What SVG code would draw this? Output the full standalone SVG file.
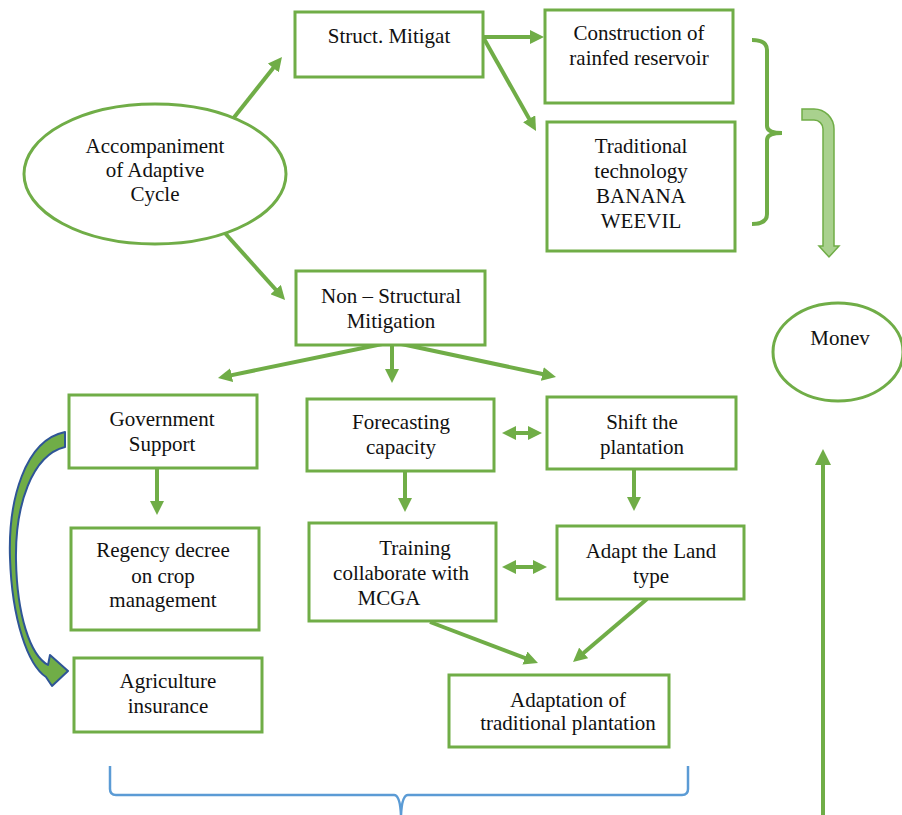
<svg xmlns="http://www.w3.org/2000/svg" width="902" height="815" viewBox="0 0 902 815">
<style>
.box{fill:#fff;stroke:#70ad47;stroke-width:3}
.ell{fill:#fff;stroke:#70ad47;stroke-width:3}
.ln{fill:none;stroke:#70ad47;stroke-width:4}
text{font-family:"Liberation Serif","DejaVu Serif","Times New Roman",serif;font-size:21px;fill:#111;text-anchor:middle}
</style>
<defs>
<marker id="ah" viewBox="0 0 14 14" refX="6" refY="7" markerWidth="14" markerHeight="14" markerUnits="userSpaceOnUse" orient="auto-start-reverse">
<path d="M0,0 L14,7 L0,14 Z" fill="#70ad47"/>
</marker>
<marker id="ah2" viewBox="0 0 16 16" refX="6" refY="8" markerWidth="16" markerHeight="16" markerUnits="userSpaceOnUse" orient="auto">
<path d="M0,0 L16,8 L0,16 Z" fill="#70ad47"/>
</marker>
</defs>
<rect width="902" height="815" fill="#fff"/>

<g id="connectors">
<line class="ln" x1="232" y1="120" x2="277" y2="63.3" marker-end="url(#ah)"/>
<line class="ln" x1="224" y1="232" x2="279.7" y2="294" marker-end="url(#ah)"/>
<line class="ln" x1="483" y1="37" x2="536" y2="37" marker-end="url(#ah)"/>
<line class="ln" x1="483" y1="37" x2="532.1" y2="124" marker-end="url(#ah)"/>
<line class="ln" x1="392" y1="342" x2="225.8" y2="376.4" marker-end="url(#ah)"/>
<line class="ln" x1="392" y1="342" x2="392" y2="375" marker-end="url(#ah)"/>
<line class="ln" x1="392" y1="342" x2="548.2" y2="375.3" marker-end="url(#ah)"/>
<line class="ln" x1="157" y1="468" x2="157" y2="507" marker-end="url(#ah)"/>
<line class="ln" x1="405" y1="471" x2="405" y2="504" marker-end="url(#ah)"/>
<line class="ln" x1="634" y1="469" x2="634" y2="503" marker-end="url(#ah)"/>
<line class="ln" x1="510" y1="433" x2="534" y2="433" marker-start="url(#ah)" marker-end="url(#ah)"/>
<line class="ln" x1="510" y1="567" x2="539" y2="567" marker-start="url(#ah)" marker-end="url(#ah)"/>
<line class="ln" x1="430" y1="622" x2="530.5" y2="660.2" marker-end="url(#ah)"/>
<line class="ln" x1="647" y1="599" x2="579.1" y2="656.8" marker-end="url(#ah)"/>
<line class="ln" x1="823" y1="815" x2="823" y2="459" marker-end="url(#ah2)"/>
<path d="M65,432 C25,440 8,500 10,558 C12,620 28,665 46,677 L52,686 L68,671 L50,655 L48,665 C30,655 17,615 16,560 C15,505 32,455 65,447 Z" fill="#70ad47" stroke="#2f5597" stroke-width="2" stroke-linejoin="round"/>
<path d="M802,109 L814,109 A20,20 0 0 1 834,129 L834,246 L839,246 L829,257 L819,246 L823,246 L823,129 A9,9 0 0 0 814,120 L802,120 Z" fill="#a9d18e" stroke="#70ad47" stroke-width="1.5"/>
<path d="M752,40 Q767,40 767,50 L767,126 Q767,133 782,133 Q767,133 767,140 L767,214 Q767,224 752,224" fill="none" stroke="#70ad47" stroke-width="4"/>
<path d="M110,766 L110,789 Q110,795 116,795 L394,795 Q400,795 401,815 Q402,795 408,795 L682,795 Q688,795 688,789 L688,766" fill="none" stroke="#5b9bd5" stroke-width="2.5"/>
</g>

<g id="accompaniment">
<ellipse class="ell" cx="155" cy="174" rx="131" ry="70"/>
<text x="155" y="153">Accompaniment</text>
<text x="155" y="177">of Adaptive</text>
<text x="155" y="201">Cycle</text>
</g>
<g id="struct">
<rect class="box" x="295" y="12" width="188" height="65"/>
<text x="389" y="43">Struct. Mitigat</text>
</g>
<g id="construction">
<rect class="box" x="545" y="10" width="188" height="93"/>
<text x="639" y="40">Construction of</text>
<text x="639" y="65">rainfed reservoir</text>
</g>
<g id="traditional">
<rect class="box" x="547" y="122" width="188" height="129"/>
<text x="641" y="153">Traditional</text>
<text x="641" y="178">technology</text>
<text x="641" y="203">BANANA</text>
<text x="641" y="228">WEEVIL</text>
</g>
<g id="nonstruct">
<rect class="box" x="296" y="271" width="189" height="74"/>
<text x="391" y="303">Non – Structural</text>
<text x="391" y="328">Mitigation</text>
</g>
<g id="monev">
<ellipse class="ell" cx="838" cy="352" rx="65" ry="49"/>
<text x="840" y="345">Monev</text>
</g>
<g id="government">
<rect class="box" x="69" y="395" width="188" height="73"/>
<text x="162" y="426">Government</text>
<text x="162" y="451">Support</text>
</g>
<g id="forecasting">
<rect class="box" x="307" y="399" width="187" height="72"/>
<text x="401" y="429">Forecasting</text>
<text x="401" y="454">capacity</text>
</g>
<g id="shift">
<rect class="box" x="547" y="397" width="189" height="72"/>
<text x="642" y="429">Shift the</text>
<text x="642" y="454">plantation</text>
</g>
<g id="regency">
<rect class="box" x="71" y="528" width="188" height="102"/>
<text x="163" y="557">Regency decree</text>
<text x="163" y="583">on crop</text>
<text x="163" y="607">management</text>
</g>
<g id="training">
<rect class="box" x="309" y="523" width="187" height="98"/>
<text x="415" y="555">Training</text>
<text x="401" y="580">collaborate with</text>
<text x="389" y="605">MCGA</text>
</g>
<g id="adapt">
<rect class="box" x="557" y="526" width="187" height="73"/>
<text x="651" y="558">Adapt the Land</text>
<text x="651" y="583">type</text>
</g>
<g id="agriculture">
<rect class="box" x="74" y="658" width="188" height="74"/>
<text x="168" y="688">Agriculture</text>
<text x="168" y="713">insurance</text>
</g>
<g id="adaptation">
<rect class="box" x="449" y="675" width="220" height="72"/>
<text x="568" y="707">Adaptation of</text>
<text x="568" y="730">traditional plantation</text>
</g>
</svg>
